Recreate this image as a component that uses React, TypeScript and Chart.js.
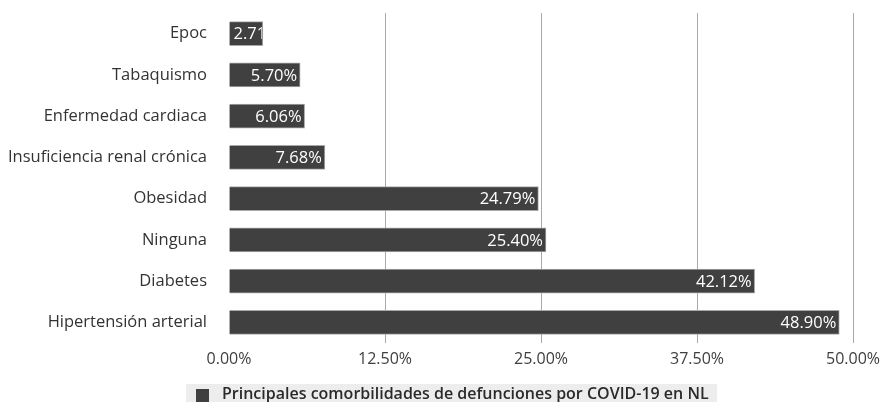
import React, { useEffect, useRef } from "react";
import { Chart, registerables } from "chart.js";

Chart.register(...registerables);

const categories = [
  "Epoc",
  "Tabaquismo",
  "Enfermedad cardiaca",
  "Insuficiencia renal crónica",
  "Obesidad",
  "Ninguna",
  "Diabetes",
  "Hipertensión arterial",
];
const values = [2.71, 5.7, 6.06, 7.68, 24.79, 25.4, 42.12, 48.9];
const seriesName = "Principales comorbilidades de defunciones por COVID-19 en NL";
const xTicks = [0, 12.5, 25, 37.5, 50];

const FONT = "'Open Sans', sans-serif";

const labelPlugin = {
  id: "barLabels",
  afterDatasetsDraw(chart: any) {
    const ctx = chart.ctx;
    const meta = chart.getDatasetMeta(0);
    ctx.save();
    ctx.font = `16.5px ${FONT}`;
    ctx.fillStyle = "#ffffff";
    ctx.textAlign = "right";
    ctx.textBaseline = "middle";
    meta.data.forEach((bar: any, i: number) => {
      const { x, y, base, height } = bar.getProps(["x", "y", "base", "height"], true);
      ctx.save();
      ctx.beginPath();
      ctx.rect(base, y - height / 2, x - base - 1, height);
      ctx.clip();
      const text = values[i].toFixed(2) + "%";
      const w = ctx.measureText(text).width;
      const tx = x - base - 6 < w ? base + 4 + w : x - 3;
      ctx.fillText(text, tx, y + 1);
      ctx.restore();
    });
    ctx.restore();
  },
};

const legendPlugin = {
  id: "customLegend",
  afterDraw(chart: any) {
    const ctx = chart.ctx;
    ctx.save();
    ctx.fillStyle = "#ededed";
    ctx.fillRect(186, 384, 531, 18);
    ctx.fillStyle = "#404040";
    ctx.fillRect(196, 389, 13, 13);
    ctx.font = `600 16px ${FONT}`;
    ctx.fillStyle = "#2a2a2a";
    ctx.textAlign = "left";
    ctx.textBaseline = "middle";
    ctx.fillText(seriesName, 222, 394);
    ctx.restore();
  },
};

export default function App() {
  const ref = useRef<HTMLCanvasElement>(null);
  useEffect(() => {
    document.body.style.margin = "0";
    const chart = new Chart(ref.current!, {
      type: "bar",
      data: {
        labels: categories,
        datasets: [
          {
            label: seriesName,
            data: values,
            backgroundColor: "#404040",
            borderColor: "#a8a8a8",
            borderWidth: 1,
            barThickness: 24,
          },
        ],
      },
      options: {
        indexAxis: "y",
        animation: false,
        responsive: false,
        layout: { padding: { top: 13, right: 43, bottom: 33, left: 0 } },
        plugins: { legend: { display: false }, tooltip: { enabled: false } },
        scales: {
          x: {
            min: 0,
            max: 50,
            z: 1,
            afterBuildTicks(scale: any) {
              scale.ticks = xTicks.map((v) => ({ value: v }));
            },
            afterFit(scale: any) {
              scale.height = 26;
            },
            border: { display: false },
            grid: {
              color: (c: any) => (c.tick && c.tick.value === 0 ? "rgba(0,0,0,0)" : "#a9a9a9"),
              lineWidth: 1,
              drawTicks: false,
            },
            ticks: {
              padding: 7,
              color: "#404040",
              font: { family: FONT, size: 16 },
              maxRotation: 0,
              callback: (v: any) => Number(v).toFixed(2) + "%",
            },
          },
          y: {
            afterFit(scale: any) {
              scale.width = 229;
            },
            border: { display: false },
            grid: { display: false, drawTicks: true, tickLength: 22 },
            ticks: {
              padding: 0,
              color: "#333333",
              font: { family: FONT, size: 16.5 },
            },
          },
        },
      },
      plugins: [labelPlugin, legendPlugin],
    });
    return () => chart.destroy();
  }, []);
  return (
    <div style={{ position: "absolute", left: 0, top: 0, width: 896, height: 402 }}>
      <canvas ref={ref} width={896} height={402} style={{ display: "block" }} />
    </div>
  );
}
